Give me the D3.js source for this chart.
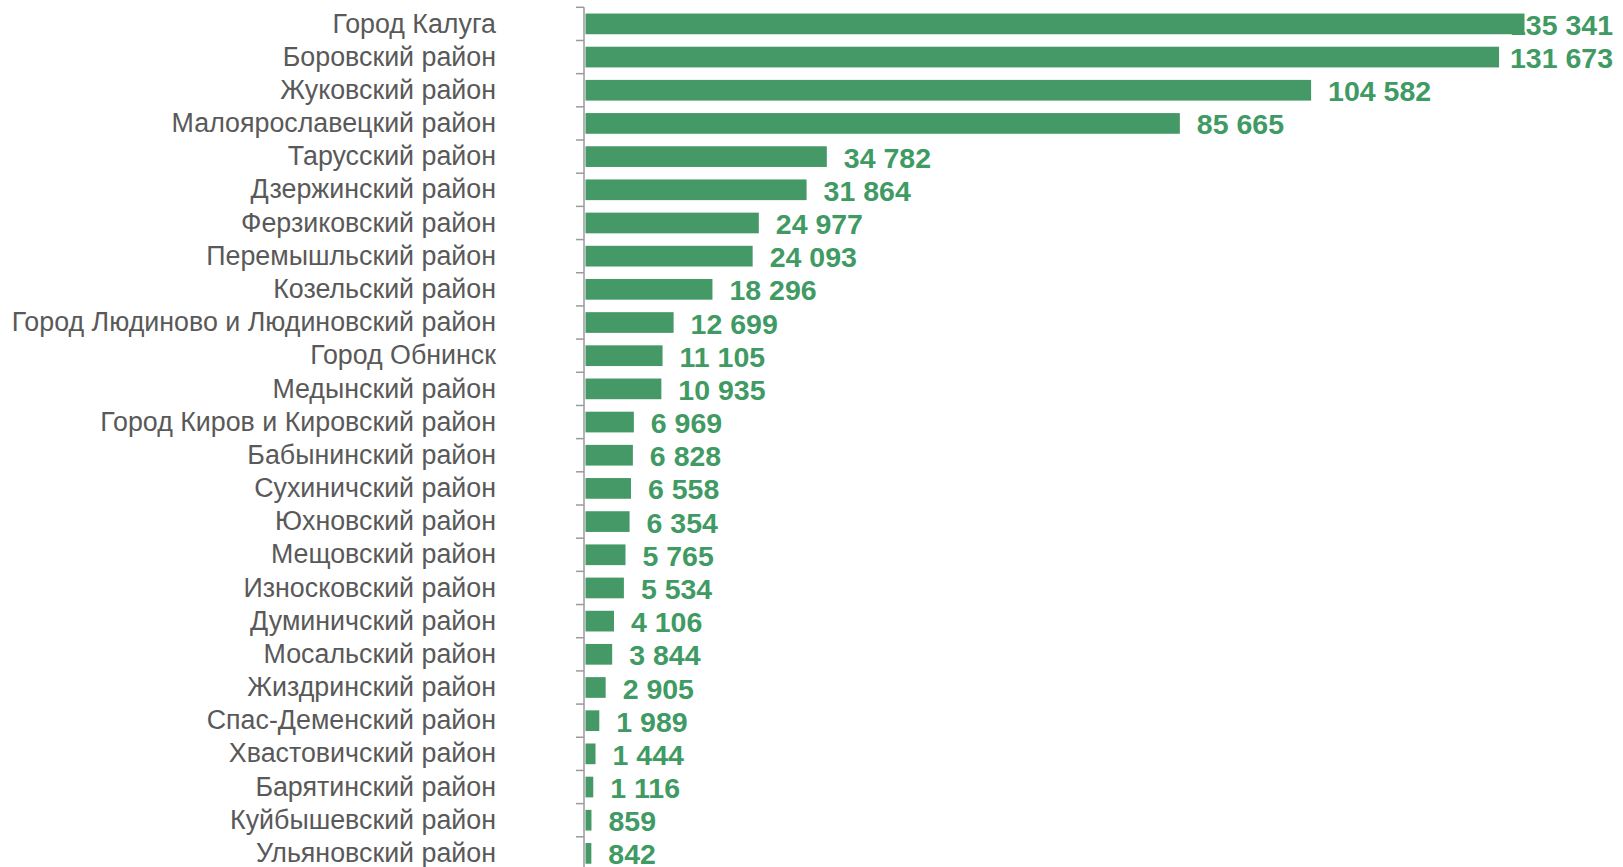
<!DOCTYPE html>
<html><head><meta charset="utf-8">
<script src="https://cdn.jsdelivr.net/npm/d3@7"></script>
<style>html,body{margin:0;padding:0;background:#fff;overflow:hidden}</style>
</head><body>
<svg id="chart" width="1623" height="867"></svg>
<script>
const categories = ["Город Калуга","Боровский район","Жуковский район","Малоярославецкий район","Тарусский район","Дзержинский район","Ферзиковский район","Перемышльский район","Козельский район","Город Людиново и Людиновский район","Город Обнинск","Медынский район","Город Киров и Кировский район","Бабынинский район","Сухиничский район","Юхновский район","Мещовский район","Износковский район","Думиничский район","Мосальский район","Жиздринский район","Спас-Деменский район","Хвастовичский район","Барятинский район","Куйбышевский район","Ульяновский район"];
const values = [135341,131673,104582,85665,34782,31864,24977,24093,18296,12699,11105,10935,6969,6828,6558,6354,5765,5534,4106,3844,2905,1989,1444,1116,859,842];

const svg = d3.select("#chart");
const W = 1623, H = 867;
const axisX = 584;
const x = d3.scaleLinear().domain([0, 135341]).range([axisX + 1.5, 1524.5]);
const y = d3.scaleBand().domain(categories).range([7.3, 7.3 + 26 * 33.18]).paddingInner(0.376).paddingOuter(0.188);

const fmt = v => d3.format(",")(v).replace(/,/g, " ");

// axis
const gAxis = svg.append("g").attr("transform", `translate(${axisX},0)`);
gAxis.append("line").attr("x1", 0).attr("x2", 0).attr("y1", y.range()[0]).attr("y2", H + 10)
  .attr("stroke", "#9a9a9a").attr("stroke-width", 1.5);
const step = y.step();
const bounds = d3.range(categories.length + 1).map(i => y.range()[0] + i * step);
gAxis.selectAll("line.tick").data(bounds).join("line").attr("class", "tick")
  .attr("x1", -8).attr("x2", 0).attr("y1", d => d).attr("y2", d => d)
  .attr("stroke", "#9a9a9a").attr("stroke-width", 1.5);

// category labels
svg.append("g").selectAll("text").data(categories).join("text")
  .attr("x", 496).attr("y", d => y(d) + y.bandwidth() / 2 - 1)
  .attr("dy", "0.36em").attr("text-anchor", "end")
  .attr("font-family", "'Liberation Sans', Arial, sans-serif").attr("font-size", 26.8)
  .attr("fill", "#595959").text(d => d);

const data = categories.map((c, i) => ({c, v: values[i]}));

// value labels (drawn beneath bars)
const maxRight = 1613;
svg.append("g").selectAll("text").data(data).join("text")
  .attr("y", d => y(d.c) + y.bandwidth() / 2 + 0.8).attr("dy", "0.36em")
  .attr("font-family", "'Liberation Sans', Arial, sans-serif").attr("font-size", 28.5)
  .attr("font-weight", "bold").attr("fill", "#3f9a63")
  .text(d => fmt(d.v))
  .each(function(d) {
    const w = this.getComputedTextLength();
    let px = x(d.v) + 17;
    if (px + w > maxRight) px = maxRight - w;
    d3.select(this).attr("x", px);
  });

// bars
svg.append("g").selectAll("rect").data(data).join("rect")
  .attr("x", x(0)).attr("y", d => y(d.c)).attr("width", d => x(d.v) - x(0))
  .attr("height", y.bandwidth()).attr("fill", "#459966");
</script>
</body></html>
